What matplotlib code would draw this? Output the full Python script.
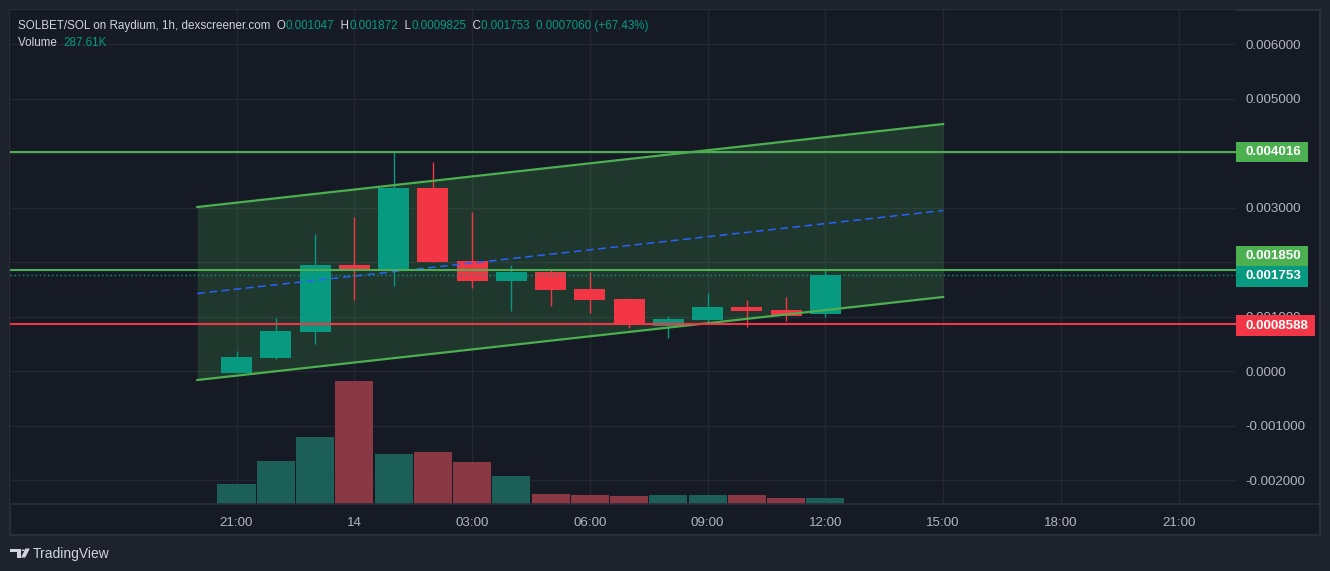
import numpy as np
import matplotlib.pyplot as plt
import matplotlib.transforms as mtransforms
from matplotlib.patches import Rectangle, Polygon, Circle
from matplotlib.ticker import FuncFormatter

plt.rcParams['font.family'] = ['Liberation Sans', 'DejaVu Sans']

# hourly candles, hour 0 = 21:00 of the 13th
hours = np.arange(16)
opens  = [-0.00003, 0.000244, 0.000721, 0.001945, 0.001835, 0.003358, 0.002018, 0.001651,
          0.001822, 0.001505, 0.001321, 0.000831, 0.000936, 0.001174, 0.001119, 0.001047]
highs  = [0.000367, 0.000972, 0.002514, 0.002826, 0.004016, 0.003835, 0.002917, 0.001945,
          0.001853, 0.001822, 0.001340, 0.001009, 0.001431, 0.001303, 0.001358, 0.001872]
lows   = [-0.00003, 0.000220, 0.000500, 0.001308, 0.001560, 0.002000, 0.001528, 0.001106,
          0.001198, 0.001070, 0.000794, 0.000611, 0.000905, 0.000807, 0.000917, 0.0009825]
closes = [0.000257, 0.000734, 0.001945, 0.001835, 0.003358, 0.002000, 0.001651, 0.001822,
          0.001486, 0.001308, 0.000862, 0.000954, 0.001174, 0.001100, 0.001009, 0.001753]
volumes = [0.96e6, 2.06e6, 3.21e6, 5.9e6, 2.40e6, 2.50e6, 2.01e6, 1.34e6,
           0.48e6, 0.43e6, 0.385e6, 0.43e6, 0.43e6, 0.43e6, 0.29e6, 0.28761e6]

# drawn channel (hour, price)
chan_x = [-1, 18]
chan_upper = [0.003009, 0.004532]
chan_lower = [-0.000165, 0.001358]

level_res = 0.004016
level_mid = 0.001850
level_sup = 0.0008588
last_price = 0.001753

xtick_pos = [0, 3, 6, 9, 12, 15, 18, 21, 24]
xtick_lab = ['21:00', '14', '03:00', '06:00', '09:00', '12:00', '15:00', '18:00', '21:00']
ytick_pos = [-0.002, -0.001, 0.0, 0.001, 0.002, 0.003, 0.004, 0.005, 0.006]
ytick_hidden = [0.002, 0.004]  # covered by the price tags

UP = '#089981'
DOWN = '#f23645'
GREEN = '#4caf50'
TXT = '#b2b5be'
BG = '#161a25'

W, H = 1330, 571
fig = plt.figure(figsize=(13.3, 5.71), dpi=100, facecolor='#1e222d')


def fx(x):
    return x / W


def fy(y):
    return 1 - y / H


# chart panel with frame
fig.add_artist(Rectangle((fx(10), fy(535)), fx(1320) - fx(10), fy(10) - fy(535),
                         transform=fig.transFigure, facecolor=BG, edgecolor='#2a2e39',
                         lw=1.5, zorder=-1))
fig.add_artist(plt.Line2D([fx(10), fx(1320)], [fy(504), fy(504)],
                          transform=fig.transFigure, color='#2a2e39', lw=1.2))

ax = fig.add_axes([fx(10), fy(504), fx(1236) - fx(10), fy(10) - fy(504)])
ax.set_facecolor(BG)
for s in ax.spines.values():
    s.set_visible(False)
ax.set_xlim(-5.77, 25.46)
ax.set_ylim(-0.00244, 0.006624)


def price_fmt(v, p):
    if any(abs(v - hv) < 1e-9 for hv in ytick_hidden):
        return ''
    return '0.0000' if abs(v) < 1e-12 else f'{v:.6f}'


ax.set_xticks(xtick_pos)
ax.set_xticklabels(xtick_lab)
ax.set_yticks(ytick_pos)
ax.yaxis.set_major_formatter(FuncFormatter(price_fmt))
ax.yaxis.tick_right()
ax.tick_params(axis='both', length=0, labelcolor=TXT, labelsize=9.6)
ax.tick_params(axis='y', pad=6.5)
ax.tick_params(axis='x', pad=9)
ax.grid(color='#242733', lw=1)
ax.set_axisbelow(True)

# volume overlay on its own scale, anchored at the bottom of the pane
vol_top = max(volumes) * 494 / 123
vol_tr = mtransforms.blended_transform_factory(
    ax.transData, mtransforms.Affine2D().scale(1, 1 / vol_top) + ax.transAxes)
up = [c >= o for o, c in zip(opens, closes)]
vcol = ['#1c5f59' if u else '#8a3844' for u in up]
for h, v, c in zip(hours, volumes, vcol):
    ax.add_patch(Rectangle((h - 0.485, 0), 0.97, v, transform=vol_tr, facecolor=c,
                           lw=0, zorder=2))

# channel
ax.fill_between(chan_x, chan_lower, chan_upper, color=GREEN, alpha=0.2, lw=0, zorder=1)
chan_mid = [(a + b) / 2 for a, b in zip(chan_upper, chan_lower)]
ax.plot(chan_x, chan_mid, color='#2962ff', lw=1.1, ls=(0, (5, 3)), zorder=4)

# candles
ccol = [UP if u else DOWN for u in up]
ax.vlines(hours, lows, highs, colors=ccol, lw=1, zorder=3)
ax.bar(hours, np.array(closes) - np.array(opens), bottom=opens, width=0.79,
       color=ccol, lw=0, zorder=3)

ax.plot(chan_x, chan_upper, color=GREEN, lw=1.6, zorder=5)
ax.plot(chan_x, chan_lower, color=GREEN, lw=1.6, zorder=5)

# horizontal levels
ax.axhline(level_res, color=GREEN, lw=1.5, zorder=5)
ax.axhline(level_mid, color=GREEN, lw=1.5, zorder=5)
ax.axhline(level_sup, color=DOWN, lw=1.5, zorder=5)
ax.axhline(last_price, color=UP, lw=1, ls=(0, (1, 2)), zorder=5)

# price tags on the right scale
tag_tr = mtransforms.blended_transform_factory(ax.transAxes, ax.transData)
px_val = 1 / 54500  # price per pixel
ax_w = 1226


def price_tag(val, label, color, width_px, shift_px=0):
    yc = val + shift_px * px_val
    hgt = 20.5 * px_val
    ax.add_patch(Rectangle((1.0, yc - hgt / 2), width_px / ax_w, hgt, transform=tag_tr,
                           facecolor=color, lw=0, clip_on=False, zorder=6))
    ax.text(1 + 9 / ax_w, yc, label, transform=tag_tr, ha='left', va='center',
            color='white', fontsize=9.6, fontweight='bold', clip_on=False, zorder=7)


price_tag(level_res, f'{level_res:.6f}', GREEN, 72)
price_tag(level_mid, f'{level_mid:.6f}', GREEN, 72, shift_px=14)
price_tag(last_price, f'{last_price:.6f}', UP, 72, shift_px=-1)
price_tag(level_sup, f'{level_sup:.7f}', DOWN, 79, shift_px=-1.5)

# legend header
LBL = '#d1d4dc'
pieces1 = [('SOLBET/SOL on Raydium, 1h, dexscreener.com  O', LBL),
           (f'{opens[-1]:.6f}', UP), ('  H', LBL), (f'{highs[-1]:.6f}', UP),
           ('  L', LBL), (f'{lows[-1]:.7f}', UP), ('  C', LBL),
           (f'{closes[-1]:.6f}  0.0007060 (+67.43%)', UP)]
pieces2 = [('Volume  ', LBL), ('287.61K', UP)]


def chain_annot(pieces, x, y, size=8.4):
    prev = fig.text(fx(x), fy(y), pieces[0][0], color=pieces[0][1], fontsize=size,
                    va='center', ha='left')
    for s, c in pieces[1:]:
        prev = ax.annotate(s, xy=(1, 0), xycoords=prev, color=c, fontsize=size,
                           va='bottom', ha='left', annotation_clip=False)


chain_annot(pieces1, 18, 26)
chain_annot(pieces2, 18, 43)

# TradingView mark
logo = '#d1d4dc'
fig.add_artist(Polygon([(fx(10), fy(548.5)), (fx(20.5), fy(548.5)), (fx(20.5), fy(557.5)),
                        (fx(16.5), fy(557.5)), (fx(16.5), fy(552)), (fx(10), fy(552))],
                       closed=True, transform=fig.transFigure, facecolor=logo, lw=0))
fig.add_artist(Polygon([(fx(25.5), fy(548.5)), (fx(29.8), fy(548.5)), (fx(25.3), fy(557.5)),
                        (fx(21), fy(557.5))],
                       closed=True, transform=fig.transFigure, facecolor=logo, lw=0))
fig.add_artist(Circle((fx(23.2), fy(550.3)), 1.7 / W, transform=fig.transFigure,
                      facecolor=logo, lw=0))
fig.text(fx(33), fy(554), 'TradingView', color=logo, fontsize=10, va='center', ha='left')

fig.savefig('out.png', dpi=100, facecolor=fig.get_facecolor())
